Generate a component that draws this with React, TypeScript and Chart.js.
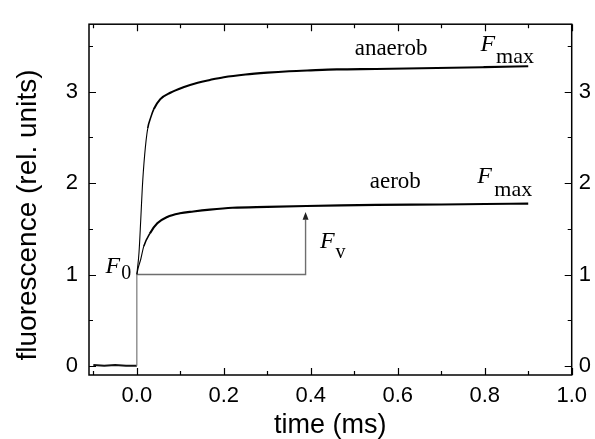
import React, { useEffect, useRef } from "react";
import { Chart, registerables } from "chart.js";

Chart.register(...registerables);

// ---- axis ticks ----
const xMajorTicks = [0, 0.2, 0.4, 0.6, 0.8, 1.0];
const xMinorTicks = [-0.1, 0.1, 0.3, 0.5, 0.7, 0.9];
const yMajorTicks = [0, 1, 2, 3];
const yMinorTicks = [0.5, 1.5, 2.5, 3.5];

// ---- pre-trigger baseline and jump to F0 ----
const baseTime = [-0.1, -0.075, -0.05, -0.025, 0.0, 0.0];
const baseFluor = [0.01, 0.0, 0.01, 0.0, 0.0, 1.0];

// ---- anaerob trace ----
const anaerobTime = [0.0, 0.005, 0.009, 0.0126, 0.018, 0.025, 0.032, 0.039, 0.054, 0.077, 0.107, 0.14, 0.168, 0.2, 0.25, 0.3, 0.35, 0.4, 0.46, 0.55, 0.69, 0.8, 0.9];
const anaerobFluor = [1.0, 1.24, 1.6, 1.95, 2.31, 2.6, 2.72, 2.81, 2.92, 2.99, 3.05, 3.1, 3.13, 3.16, 3.19, 3.21, 3.225, 3.235, 3.245, 3.25, 3.26, 3.27, 3.28];

// ---- aerob trace ----
const aerobTime = [0.0, 0.003, 0.009, 0.016, 0.03, 0.047, 0.07, 0.099, 0.13, 0.168, 0.22, 0.3, 0.39, 0.47, 0.55, 0.7, 0.8, 0.9];
const aerobFluor = [1.0, 1.07, 1.167, 1.31, 1.45, 1.56, 1.63, 1.67, 1.69, 1.71, 1.73, 1.74, 1.75, 1.757, 1.762, 1.767, 1.772, 1.776];

// ---- Fv guide (F0 level to arrow) ----
const guideTime = [0.0, 0.388, 0.388];
const guideFluor = [1.0, 1.0, 1.6];
const arrowTipFluor = 1.685;

// ---- annotations (data coordinates) ----
const wordTexts = ["anaerob", "aerob"];
const wordX = [0.501, 0.653];
const wordY = [3.4, 1.945];
const wordAlign = ["left", "right"];

const symbolSubs = ["max", "max", "v", "0"];
const symbolX = [0.79, 0.783, 0.421, -0.072];
const symbolY = [3.452, 2.0, 1.292, 1.017];
const subX = [0.826, 0.822, 0.457, -0.036];
const subY = [3.316, 1.862, 1.185, 0.946];

const yTitle = "fluorescence (rel. units)";
const xTitle = "time (ms)";

const X_MIN = -0.11;
const X_MAX = 1.0;
const Y_MIN = -0.1;
const Y_MAX = 3.74;

const SANS = "'Liberation Sans', Arial, sans-serif";
const SERIF = "'Liberation Serif', 'Times New Roman', serif";

const toPts = (xs: number[], ys: number[]) => xs.map((x, i) => ({ x, y: ys[i] }));

const framePlugin = {
  id: "frameAndNotes",
  afterDatasetsDraw(chart: any) {
    const { ctx, chartArea: a, scales } = chart;
    const sx = scales.x;
    const sy = scales.y;
    ctx.save();
    // frame
    ctx.strokeStyle = "#000";
    ctx.lineWidth = 1.5;
    ctx.strokeRect(a.left, a.top, a.right - a.left, a.bottom - a.top);
    // ticks (inward)
    ctx.lineWidth = 1.2;
    const xt = (v: number, len: number) => {
      const px = Math.round(sx.getPixelForValue(v)) + 0.5;
      ctx.beginPath();
      ctx.moveTo(px, a.bottom);
      ctx.lineTo(px, a.bottom - len);
      ctx.moveTo(px, a.top);
      ctx.lineTo(px, a.top + len);
      ctx.stroke();
    };
    const yt = (v: number, len: number) => {
      const py = Math.round(sy.getPixelForValue(v)) + 0.5;
      ctx.beginPath();
      ctx.moveTo(a.left, py);
      ctx.lineTo(a.left + len, py);
      ctx.moveTo(a.right, py);
      ctx.lineTo(a.right - len, py);
      ctx.stroke();
    };
    xMajorTicks.forEach((v) => xt(v, 7));
    xMinorTicks.forEach((v) => xt(v, 4));
    yMajorTicks.forEach((v) => yt(v, 7));
    yMinorTicks.forEach((v) => yt(v, 4));

    // arrowhead
    const ax = sx.getPixelForValue(guideTime[2]);
    const tipY = sy.getPixelForValue(arrowTipFluor);
    const baseY = sy.getPixelForValue(guideFluor[2]);
    ctx.fillStyle = "#222";
    ctx.beginPath();
    ctx.moveTo(ax, tipY);
    ctx.lineTo(ax - 3, baseY);
    ctx.lineTo(ax + 3, baseY);
    ctx.closePath();
    ctx.fill();

    // words
    ctx.fillStyle = "#000";
    ctx.textBaseline = "alphabetic";
    ctx.font = `23px ${SERIF}`;
    wordTexts.forEach((t, i) => {
      ctx.textAlign = wordAlign[i];
      ctx.fillText(t, sx.getPixelForValue(wordX[i]), sy.getPixelForValue(wordY[i]));
    });
    // F symbols with subscripts
    ctx.textAlign = "left";
    symbolSubs.forEach((s, i) => {
      ctx.font = `italic 24px ${SERIF}`;
      ctx.fillText("F", sx.getPixelForValue(symbolX[i]), sy.getPixelForValue(symbolY[i]));
      ctx.font = s === "max" ? `22px ${SERIF}` : `20px ${SERIF}`;
      ctx.fillText(s, sx.getPixelForValue(subX[i]), sy.getPixelForValue(subY[i]));
    });

    // y axis title
    ctx.save();
    ctx.translate(28, 215);
    ctx.rotate(-Math.PI / 2);
    ctx.textAlign = "center";
    ctx.textBaseline = "middle";
    ctx.font = `28px ${SANS}`;
    ctx.fillText(yTitle, 0, 0);
    ctx.restore();
    ctx.restore();
  },
};

export default function App() {
  const canvasRef = useRef<HTMLCanvasElement | null>(null);

  useEffect(() => {
    if (!canvasRef.current) return;
    const traceWidth = (c: any) => {
      const x1 = c.p1.parsed.x;
      if (x1 <= 0.025) return 1.1;
      if (x1 <= 0.045) return 1.6;
      return 2.1;
    };
    const chart = new Chart(canvasRef.current, {
      type: "line",
      data: {
        datasets: [
          {
            data: toPts(baseTime, baseFluor),
            borderColor: "#111",
            borderWidth: 2,
            pointRadius: 0,
            tension: 0,
            segment: {
              borderWidth: (c: any) => (c.p0.parsed.x === 0 && c.p1.parsed.x === 0 ? 1.2 : 2),
              borderColor: (c: any) => (c.p0.parsed.x === 0 && c.p1.parsed.x === 0 ? "#777" : "#111"),
            },
          },
          {
            data: toPts(anaerobTime, anaerobFluor),
            borderColor: "#000",
            borderWidth: 2.1,
            pointRadius: 0,
            cubicInterpolationMode: "monotone",
            segment: { borderWidth: traceWidth },
          },
          {
            data: toPts(aerobTime, aerobFluor),
            borderColor: "#000",
            borderWidth: 2.1,
            pointRadius: 0,
            cubicInterpolationMode: "monotone",
            segment: { borderWidth: traceWidth },
          },
          {
            data: toPts(guideTime, guideFluor),
            borderColor: "#6e6e6e",
            borderWidth: 1.4,
            pointRadius: 0,
            tension: 0,
          },
        ],
      },
      options: {
        animation: false,
        responsive: true,
        maintainAspectRatio: false,
        layout: { padding: { top: 17, left: 0, right: 0, bottom: 0 } },
        plugins: { legend: { display: false }, tooltip: { enabled: false } },
        scales: {
          x: {
            type: "linear",
            position: "bottom",
            min: X_MIN,
            max: X_MAX,
            grid: { display: false, drawTicks: false },
            border: { display: false },
            afterBuildTicks: (s: any) => {
              s.ticks = xMajorTicks.map((v) => ({ value: v }));
            },
            afterFit: (s: any) => {
              s.height = 64;
            },
            ticks: {
              autoSkip: false,
              maxRotation: 0,
              padding: 8,
              color: "#000",
              font: { family: SANS, size: 22 },
              callback: (v: any) => Number(v).toFixed(1),
            },
            title: {
              display: true,
              text: xTitle,
              color: "#000",
              font: { family: SANS, size: 27, lineHeight: 1 },
              padding: { top: 0, bottom: 0 },
            },
          },
          y: {
            type: "linear",
            position: "left",
            min: Y_MIN,
            max: Y_MAX,
            grid: { display: false, drawTicks: false },
            border: { display: false },
            afterBuildTicks: (s: any) => {
              s.ticks = yMajorTicks.map((v) => ({ value: v }));
            },
            afterFit: (s: any) => {
              s.width = 89;
            },
            ticks: {
              padding: 11,
              color: "#000",
              font: { family: SANS, size: 22 },
              callback: (v: any) => String(v),
            },
          },
          y2: {
            type: "linear",
            position: "right",
            min: Y_MIN,
            max: Y_MAX,
            grid: { display: false, drawTicks: false },
            border: { display: false },
            afterBuildTicks: (s: any) => {
              s.ticks = yMajorTicks.map((v) => ({ value: v }));
            },
            afterFit: (s: any) => {
              s.width = 19;
            },
            ticks: {
              padding: 7,
              color: "#000",
              font: { family: SANS, size: 22 },
              callback: (v: any) => String(v),
            },
          },
        },
      },
      plugins: [framePlugin],
    } as any);
    return () => chart.destroy();
  }, []);

  return (
    <div style={{ position: "absolute", left: 0, top: 0, width: 595, height: 439, background: "#fff" }}>
      <canvas ref={canvasRef} />
    </div>
  );
}
